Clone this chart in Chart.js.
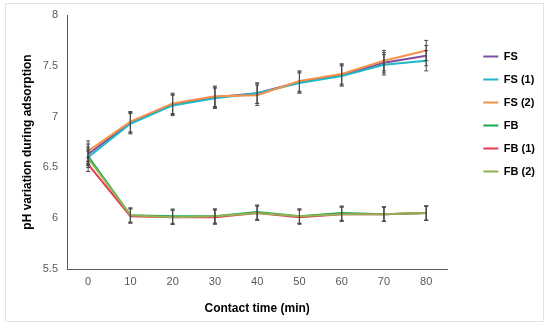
<!DOCTYPE html>
<html>
<head>
<meta charset="utf-8">
<script src="https://cdn.jsdelivr.net/npm/chart.js@4/dist/chart.umd.min.js"></script>
<style>
  body { margin: 0; background: #fff; }
  #wrap { position: relative; width: 550px; height: 332px; }
  #frame { position: absolute; left: 5px; top: 3px; width: 539px; height: 319px; border: 1px solid #e3e3e3; box-sizing: border-box; }
  canvas { position: absolute; left: 0; top: 0; }
</style>
</head>
<body>
<div id="wrap">
  <div id="frame"></div>
  <canvas id="myChart" width="550" height="332"></canvas>
</div>
<script>
const times = ["0", "10", "20", "30", "40", "50", "60", "70", "80"]
const seriesNames = ["FS", "FS (1)", "FS (2)", "FB", "FB (1)", "FB (2)"]
const fs = [6.63, 6.94, 7.12, 7.19, 7.23, 7.34, 7.41, 7.53, 7.60]
const fs1 = [6.60, 6.93, 7.11, 7.18, 7.23, 7.33, 7.40, 7.51, 7.55]
const fs2 = [6.66, 6.95, 7.13, 7.20, 7.21, 7.35, 7.42, 7.55, 7.65]
const fb = [6.61, 6.03, 6.02, 6.02, 6.06, 6.02, 6.05, 6.04, 6.05]
const fb1 = [6.53, 6.02, 6.01, 6.01, 6.05, 6.01, 6.04, 6.04, 6.05]
const fb2 = [6.59, 6.03, 6.01, 6.02, 6.05, 6.02, 6.04, 6.04, 6.05]
const errFs = [0.1, 0.1, 0.1, 0.1, 0.1, 0.1, 0.1, 0.1, 0.1]
const errFb = [0.07, 0.07, 0.07, 0.07, 0.07, 0.07, 0.07, 0.07, 0.07]
const colors = ["#7E4F9E", "#1FB8C8", "#F8904A", "#12AE50", "#E8394F", "#93B256"]

const values = [fs, fs1, fs2, fb, fb1, fb2]
const errors = [errFs, errFs, errFs, errFb, errFb, errFb]

// error bars drawn from the scales
const errorBars = {
    id: 'errorBars',
    afterDatasetsDraw(chart) {
        const {ctx, scales: {x, y}} = chart
        ctx.save()
        ctx.strokeStyle = '#4a4a4a'
        ctx.lineWidth = 1
        chart.data.datasets.forEach((ds, i) => {
            ds.data.forEach((v, j) => {
                const px = x.getPixelForValue(j)
                const top = y.getPixelForValue(v + ds.err[j])
                const bot = y.getPixelForValue(v - ds.err[j])
                ctx.beginPath()
                ctx.moveTo(px, top); ctx.lineTo(px, bot)
                ctx.moveTo(px - 2, top); ctx.lineTo(px + 2, top)
                ctx.moveTo(px - 2, bot); ctx.lineTo(px + 2, bot)
                ctx.stroke()
            })
        })
        ctx.restore()
    }
}

// nudge the legend to where the reference has it
const legendSpot = {
    id: 'legendSpot',
    afterLayout(chart) {
        const lg = chart.legend
        lg.left += 24
        lg.right += 24
        lg.top += 24
        lg.bottom += 24
    }
}

const ctx1 = document.getElementById("myChart").getContext('2d')
const myChart = new Chart(ctx1, {
    type: 'line',
    data: {
        labels: times,
        datasets: values.map((d, i) => ({
            label: seriesNames[i],
            data: d,
            err: errors[i],
            borderColor: colors[i],
            backgroundColor: colors[i],
            borderWidth: 2,
            pointRadius: 0,
            tension: 0,
            order: 6 - i
        }))
    },
    options: {
        responsive: false,
        animation: false,
        layout: { padding: { left: 16, top: 15, right: 29, bottom: 12 } },
        plugins: {
            tooltip: { enabled: false },
            legend: {
                position: 'right',
                align: 'start',
                labels: {
                    usePointStyle: true,
                    pointStyle: 'line',
                    pointStyleWidth: 15,
                    padding: 12,
                    color: '#000',
                    font: { family: 'Liberation Sans', size: 11, weight: 'bold' },
                    sort: (a, b) => a.datasetIndex - b.datasetIndex
                }
            }
        },
        scales: {
            x: {
                offset: true,
                grid: { display: false, drawTicks: false },
                border: { color: '#595959', width: 1 },
                ticks: { color: '#595959', padding: 6, font: { family: 'Liberation Sans', size: 11 } },
                title: {
                    display: true,
                    text: 'Contact time (min)',
                    color: '#000',
                    padding: { top: 4, bottom: 4 },
                    font: { family: 'Liberation Sans', size: 12, weight: 'bold' }
                },
                afterFit: s => { s.height = 51 }
            },
            y: {
                min: 5.5,
                max: 8,
                ticks: {
                    stepSize: 0.5,
                    color: '#595959',
                    padding: 5,
                    font: { family: 'Liberation Sans', size: 11 },
                    callback: v => String(Number(v))
                },
                grid: { display: false, drawTicks: true, tickLength: 4, color: '#595959' },
                border: { color: '#595959', width: 1 },
                title: {
                    display: true,
                    text: 'pH variation during adsorption',
                    color: '#000',
                    padding: { top: 4, bottom: 4 },
                    font: { family: 'Liberation Sans', size: 12, weight: 'bold' }
                },
                afterFit: s => { s.width = 51 }
            }
        }
    },
    plugins: [errorBars, legendSpot]
})
</script>
</body>
</html>
